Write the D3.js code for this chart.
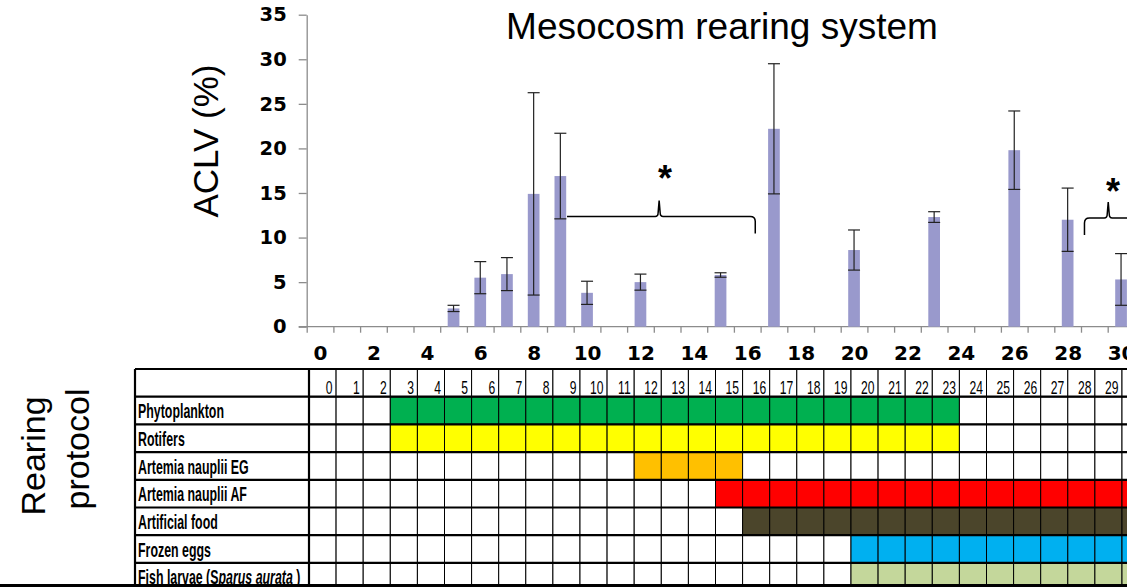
<!DOCTYPE html>
<html lang="en">
  <head>
    <meta charset="UTF-8" />
    <title>Mesocosm rearing system</title>
    <script src="https://cdn.jsdelivr.net/npm/d3@7.6.1/dist/d3.min.js"></script>
    <style>
      body { margin: 0; background: #fff; }
      svg { display: block; }
    </style>
  </head>
  <body>
    <div id="box"></div>
    <script>
      const width = 1127;
      const height = 587;

      // ACLV per day (mean, sd)
      const days = [5, 6, 7, 8, 9, 10, 12, 15, 17, 20, 23, 26, 28, 30];
      const aclv = [2.05, 5.5, 5.9, 14.9, 16.9, 3.8, 5.0, 5.8, 22.2, 8.6, 12.3, 19.8, 12.0, 5.3];
      const sd = [0.35, 1.8, 1.85, 11.35, 4.8, 1.3, 0.9, 0.25, 7.3, 2.25, 0.6, 4.4, 3.55, 2.9];
      const yTicks = [0, 5, 10, 15, 20, 25, 30, 35];
      const xLabels = d3.range(0, 32, 2);

      // significance braces (in day units / ACLV units)
      const braceFrom = [9.25, 28.63];
      const braceTip = [12.7, 29.52];
      const braceTo = [16.3, 30.4];
      const braceY = [12.35, 12.2];

      // rearing protocol
      const foods = ['Phytoplankton', 'Rotifers', 'Artemia nauplii EG', 'Artemia nauplii AF',
        'Artificial food', 'Frozen eggs', 'Fish larvae'];
      const foodStart = [3, 3, 12, 15, 16, 20, 20];
      const foodEnd = [23, 23, 15, 31, 31, 31, 31];
      const foodColor = ['#00b050', '#ffff00', '#ffc000', '#ff0000', '#4b452b', '#00b0f0', '#c4d79b'];
      const tableDays = d3.range(0, 31);

      const svg = d3.select('#box').append('svg').attr('width', width).attr('height', height);
      svg.append('rect').attr('width', width).attr('height', height).attr('fill', '#fff');

      /* ---- bar chart ---- */
      const step = 26.7;
      const x0 = 306.7;
      const x = d3.scaleLinear().domain([-0.5, 31.5]).range([x0, x0 + 32 * step]);
      const y = d3.scaleLinear().domain([0, 35]).range([326.7, 14.7]);
      const barW = 11.7;

      // braces first, bars drawn above them
      const braces = svg.append('g').attr('fill', 'none').attr('stroke', '#000').attr('stroke-width', 1.5);
      braceFrom.forEach((b, i) => {
        const xa = x(b), xt = x(braceTip[i]), xb = x(braceTo[i]);
        const yl = y(braceY[i]);
        const r = 5;
        let p = '';
        if (i === 0) {
          p += `M${xa},${yl}`;
        } else {
          p += `M${xa},${yl + 17} L${xa},${yl + r} Q${xa},${yl} ${xa + r},${yl}`;
        }
        p += ` L${xt - 4},${yl} Q${xt - 1},${yl} ${xt - 1},${yl - 4} L${xt},${yl - 16}`;
        p += ` L${xt + 1},${yl - 4} Q${xt + 1},${yl} ${xt + 4},${yl}`;
        p += ` L${xb - r},${yl} Q${xb},${yl} ${xb},${yl + r} L${xb},${yl + 17}`;
        braces.append('path').attr('d', p);
      });
      const stars = [[12.92, 15.2], [29.7, 13.8]];
      svg.selectAll('.star').data(stars).enter().append('text')
        .attr('class', 'star')
        .attr('x', d => x(d[0]))
        .attr('y', d => y(d[1]))
        .attr('text-anchor', 'middle')
        .attr('font-family', 'Liberation Sans, Arial, sans-serif')
        .attr('font-size', 36)
        .attr('font-weight', 'bold')
        .text('*');

      // y axis
      const yAxis = d3.axisLeft(y).tickValues(yTicks).tickSize(8).tickSizeOuter(0).tickPadding(12);
      const gy = svg.append('g').attr('transform', `translate(${x0},0)`).call(yAxis);
      gy.selectAll('path, line').attr('stroke', '#8c8c8c').attr('stroke-width', 1.3);
      gy.selectAll('text')
        .attr('font-family', 'DejaVu Sans, sans-serif')
        .attr('font-weight', 'bold')
        .attr('font-size', 19.5)
        .attr('fill', '#000');

      // x axis: boundary ticks + even day labels
      const xTicks = d3.axisBottom(x).tickValues(d3.range(-0.5, 32, 1)).tickSize(6).tickSizeOuter(0).tickFormat('');
      const gx = svg.append('g').attr('transform', `translate(0,${y(0)})`).call(xTicks);
      gx.selectAll('path, line').attr('stroke', '#8c8c8c').attr('stroke-width', 1.3);
      gx.select('path').attr('d', `M${x0 - 8},0H${width + 40}`);
      const xLab = d3.axisBottom(x).tickValues(xLabels).tickSize(0);
      const gl = svg.append('g').attr('transform', `translate(0,${y(0)})`).call(xLab);
      gl.select('path').remove();
      gl.selectAll('text')
        .attr('y', 33).attr('dy', 0)
        .attr('font-family', 'DejaVu Sans, sans-serif')
        .attr('font-weight', 'bold')
        .attr('font-size', 20)
        .attr('fill', '#000');

      // bars
      svg.selectAll('.bar').data(days).enter().append('rect')
        .attr('class', 'bar')
        .attr('x', d => x(d) - barW / 2)
        .attr('y', (d, i) => y(aclv[i]))
        .attr('width', barW)
        .attr('height', (d, i) => y(0) - y(aclv[i]))
        .attr('fill', '#9999cc');

      // error bars
      const err = svg.append('g').attr('stroke', '#222').attr('stroke-width', 1.2);
      days.forEach((d, i) => {
        const cx = x(d), hi = y(aclv[i] + sd[i]), lo = y(aclv[i] - sd[i]);
        err.append('line').attr('x1', cx).attr('x2', cx).attr('y1', hi).attr('y2', lo);
        err.append('line').attr('x1', cx - 6).attr('x2', cx + 6).attr('y1', hi).attr('y2', hi);
        err.append('line').attr('x1', cx - 6).attr('x2', cx + 6).attr('y1', lo).attr('y2', lo);
      });

      // titles
      svg.append('text')
        .attr('x', 722).attr('y', 39)
        .attr('text-anchor', 'middle')
        .attr('font-family', 'Liberation Sans, Arial, sans-serif')
        .attr('font-size', 37)
        .text('Mesocosm rearing system');
      svg.append('text')
        .attr('transform', 'translate(218,141) rotate(-90)')
        .attr('text-anchor', 'middle')
        .attr('font-family', 'Liberation Sans, Arial, sans-serif')
        .attr('font-size', 35)
        .text('ACLV (%)');
      svg.append('text')
        .attr('transform', 'translate(45,456) rotate(-90)')
        .attr('text-anchor', 'middle')
        .attr('font-family', 'Liberation Sans, Arial, sans-serif')
        .attr('font-size', 34)
        .text('Rearing');
      svg.append('text')
        .attr('transform', 'translate(89,449) rotate(-90)')
        .attr('text-anchor', 'middle')
        .attr('font-family', 'Liberation Sans, Arial, sans-serif')
        .attr('font-size', 34)
        .text('protocol');

      /* ---- rearing protocol table ---- */
      const tLeft = 135;
      const tx = d3.scaleBand().domain(tableDays).range([309, 309 + 31 * 27.1]);
      const ty = d3.scaleBand().domain(['head', ...foods]).range([369, 369 + 8 * 27.7]);
      const table = svg.append('g');
      const tableFont = 'Liberation Sans Narrow, Arial Narrow, Liberation Sans, sans-serif';

      // cells
      foods.forEach((f, r) => {
        table.selectAll(null).data(tableDays).enter().append('rect')
          .attr('x', d => tx(d))
          .attr('y', ty(f))
          .attr('width', tx.bandwidth())
          .attr('height', ty.bandwidth())
          .attr('fill', d => (d >= foodStart[r] && d <= foodEnd[r] ? foodColor[r] : '#fff'))
          .attr('stroke', '#000')
          .attr('stroke-width', 1);
      });
      table.selectAll('.hcell').data(tableDays).enter().append('rect')
        .attr('x', d => tx(d)).attr('y', ty('head'))
        .attr('width', tx.bandwidth()).attr('height', ty.bandwidth())
        .attr('fill', '#fff').attr('stroke', '#000').attr('stroke-width', 1);

      // thick horizontal rules and label column borders
      const rules = table.append('g').attr('stroke', '#000').attr('stroke-width', 2.2);
      ty.domain().forEach(k => {
        rules.append('line').attr('x1', tLeft).attr('x2', width + 10)
          .attr('y1', ty(k)).attr('y2', ty(k));
      });
      rules.append('line').attr('x1', tLeft).attr('x2', tLeft).attr('y1', ty('head')).attr('y2', height);
      rules.append('line').attr('x1', tx(0)).attr('x2', tx(0)).attr('y1', ty('head')).attr('y2', height);

      // header numbers (narrow font, scaled to match)
      const probe = svg.append('text').attr('font-family', tableFont).attr('font-size', 19).text('10');
      const kNum = 13.5 / probe.node().getComputedTextLength();
      probe.remove();
      table.selectAll('.num').data(tableDays).enter().append('text')
        .attr('transform', d => `translate(${tx(d) + tx.bandwidth() - 3.5},${ty('head') + 25.3}) scale(${kNum},1)`)
        .attr('text-anchor', 'end')
        .attr('font-family', tableFont)
        .attr('font-size', 19)
        .text(d => d);

      // row labels
      const probe2 = svg.append('text').attr('font-family', tableFont).attr('font-size', 20)
        .attr('font-weight', 'bold').text('Phytoplankton');
      const kLab = 86 / probe2.node().getComputedTextLength();
      probe2.remove();
      foods.forEach((f, r) => {
        const t = table.append('text')
          .attr('transform', `translate(${tLeft + 3},${ty(f) + 21.5}) scale(${kLab},1)`)
          .attr('font-family', tableFont)
          .attr('font-size', 20)
          .attr('font-weight', 'bold');
        if (f === 'Fish larvae') {
          t.append('tspan').text('Fish larvae (S');
          t.append('tspan').attr('font-style', 'italic').text('parus aurata');
          t.append('tspan').text(' )');
        } else {
          t.text(f);
        }
      });

      // bottom black rule
      svg.append('rect').attr('x', 0).attr('y', 584).attr('width', width).attr('height', 4).attr('fill', '#000');
    </script>
  </body>
</html>
